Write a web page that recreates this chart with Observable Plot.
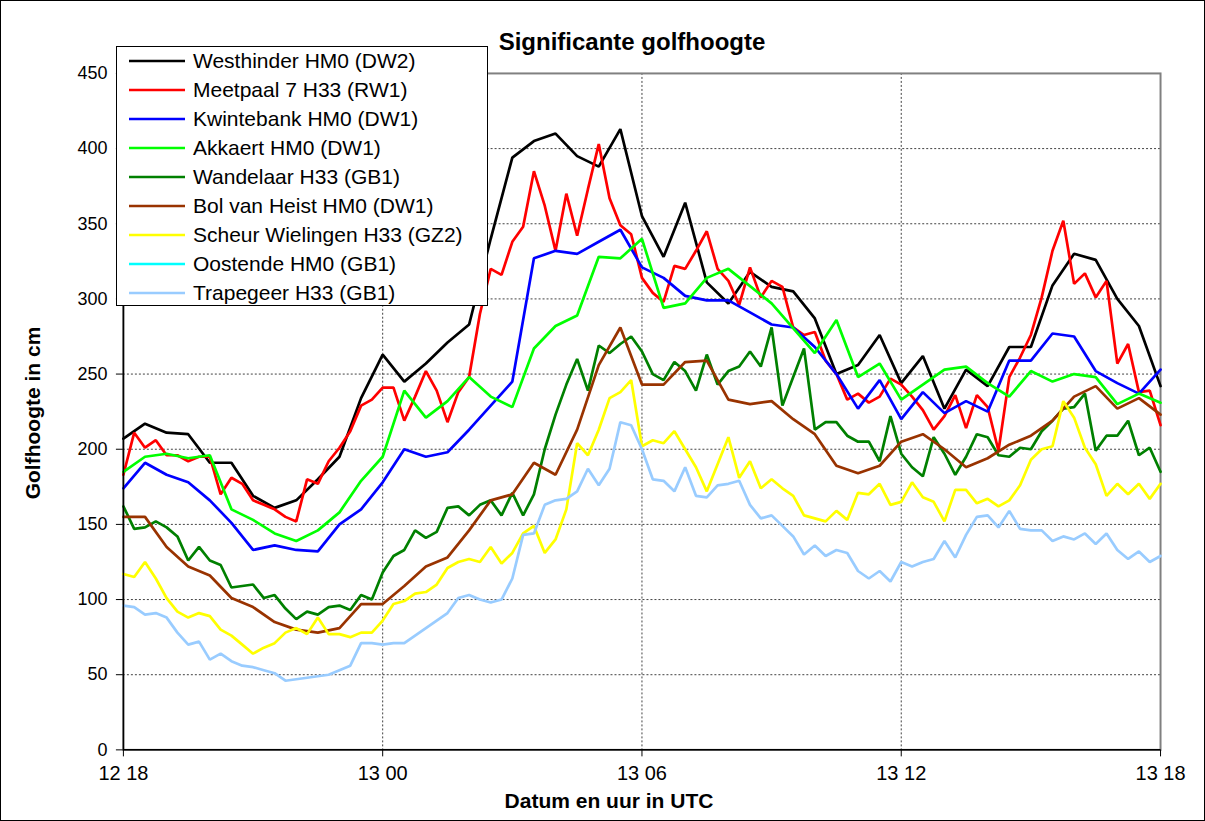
<!DOCTYPE html>
<html>
<head>
<meta charset="utf-8">
<script src="https://cdn.jsdelivr.net/npm/d3@7"></script>
<script src="https://cdn.jsdelivr.net/npm/@observablehq/plot@0.6"></script>
<style>
  html, body { margin: 0; padding: 0; background: #fff; }
  #wrap { position: relative; width: 1205px; height: 821px; box-sizing: border-box; border: 1px solid #000; overflow: hidden; font-family: Arial, "Liberation Sans", sans-serif; }
  #chart { position: absolute; left: -1px; top: -1px; }
  .title { position: absolute; left: 0; width: 1262px; top: 27px; text-align: center; font-weight: bold; font-size: 24px; line-height: 28px; }
  .xlab { position: absolute; left: 0; width: 1216px; top: 788px; text-align: center; font-weight: bold; font-size: 21px; line-height: 24px; }
  .ylab { position: absolute; left: 32px; top: 412px; transform: translate(-50%, -50%) rotate(-90deg); white-space: nowrap; font-weight: bold; font-size: 21px; line-height: 24px; }
  #legend { position: absolute; left: 115px; top: 45px; width: 372px; height: 260px; box-sizing: border-box; border: 1px solid #000; background: #fff; padding-top: 0px; }
  .row { display: flex; align-items: center; height: 28.9px; font-size: 21px; white-space: nowrap; }
  .row svg { margin-left: 12px; margin-right: 8px; flex: none; }
</style>
</head>
<body>
<div id="wrap">
  <div id="chart"></div>
  <div class="title">Significante golfhoogte</div>
  <div class="ylab">Golfhoogte in cm</div>
  <div class="xlab">Datum en uur in UTC</div>
  <div id="legend"></div>
</div>
<script>
// Series names and colours (legend order)
const seriesNames = [
  "Westhinder HM0 (DW2)",
  "Meetpaal 7 H33 (RW1)",
  "Kwintebank HM0 (DW1)",
  "Akkaert HM0 (DW1)",
  "Wandelaar H33 (GB1)",
  "Bol van Heist HM0 (DW1)",
  "Scheur Wielingen H33 (GZ2)",
  "Oostende HM0 (GB1)",
  "Trapegeer H33 (GB1)"
];
const seriesColors = ["#000000", "#ff0000", "#0000ff", "#00ff00", "#008000", "#993300", "#ffff00", "#00ffff", "#99ccff"];

// x tick labels (hours after 12 18)
const tickHours = [0, 6, 12, 18, 24];
const tickLabels = ["12 18", "13 00", "13 06", "13 12", "13 18"];

// Half-hourly series (values every 30 minutes from 12 18 to 13 18), cm
const westhinder = [207,217,211,210,191,191,169,161,166,180,195,234,263,245,257,271,283,340,394,405,410,395,388,413,355,328,364,311,297,318,308,305,287,250,256,276,244,262,227,253,242,268,268,309,330,326,300,282,242];
const kwintebank = [174,191,183,178,166,151,133,136,133,132,150,160,178,200,195,198,213,229,245,327,332,330,338,346,321,314,302,299,299,291,283,281,268,250,227,246,220,238,224,232,225,259,259,277,275,252,244,237,253];
const akkaert = [185,195,197,194,196,160,153,144,139,146,158,179,195,239,221,232,248,235,228,267,282,289,328,327,340,294,297,314,320,null,297,null,264,286,248,257,233,243,253,255,244,235,252,245,250,248,230,237,231];
const bolVanHeist = [155,155,135,122,116,101,95,85,80,78,81,97,97,109,122,128,146,166,170,191,183,213,256,281,243,243,258,259,233,230,232,220,210,189,184,189,205,210,200,188,194,203,209,219,235,242,227,234,223];

// Quarter-hourly series (values every 15 minutes), cm
const meetpaal7 = [183,211,201,206,196,196,192,195,195,170,181,177,166,163,160,155,152,180,177,192,201,212,229,233,241,241,219,235,252,239,218,238,248,290,320,316,338,348,385,362,332,370,342,373,403,367,349,343,314,304,298,322,320,332,345,320,312,296,321,301,312,308,281,276,278,259,250,233,237,231,235,247,243,235,226,213,222,236,214,236,228,199,248,261,276,301,332,352,310,317,301,312,257,270,238,239,216];
const wandelaar = [162,147,148,152,148,142,126,135,126,123,108,109,110,101,103,94,87,92,90,95,96,93,103,100,118,129,133,146,141,145,161,162,156,163,166,156,171,156,170,200,223,243,260,239,269,264,270,275,265,250,246,258,252,239,263,243,252,255,265,255,281,229,248,267,213,218,218,209,205,205,192,222,197,188,182,208,197,183,195,210,208,196,195,201,200,212,219,227,228,237,199,209,209,219,196,201,185];
const scheurWielingen = [117,115,125,114,101,92,88,91,89,80,76,70,64,68,71,78,81,77,88,77,77,75,78,78,86,97,99,104,105,110,121,125,127,125,135,124,131,144,149,131,140,160,204,196,213,234,238,246,202,206,204,212,200,188,172,190,208,181,192,174,180,174,169,156,154,152,159,153,171,170,177,163,165,178,168,165,152,173,173,164,167,162,166,176,193,200,202,232,221,201,190,169,177,170,177,167,177];
const oostende = [];
const trapegeer = [96,95,90,91,88,78,70,72,60,64,59,56,55,53,51,46,47,48,49,50,53,56,71,71,70,71,71,76,81,86,91,101,103,100,98,100,114,143,144,163,166,167,172,187,176,187,218,216,200,180,179,172,188,169,168,176,177,179,163,154,156,149,142,130,136,129,133,131,119,114,119,112,125,122,125,127,139,128,143,155,156,148,159,147,146,146,139,142,140,144,137,144,133,127,132,125,129];

const seriesValues = [westhinder, meetpaal7, kwintebank, akkaert, wandelaar, bolVanHeist, scheurWielingen, oostende, trapegeer];
const seriesStepHours = [0.5, 0.25, 0.5, 0.5, 0.25, 0.5, 0.25, 0.25, 0.25];

const rows = [];
seriesNames.forEach((name, s) => {
  seriesValues[s].forEach((v, i) => {
    if (v != null) rows.push({series: name, h: i * seriesStepHours[s], v});
  });
});

const lineMarks = seriesNames.map((name, s) =>
  Plot.line(rows.filter(d => d.series === name), {x: "h", y: "v", stroke: seriesColors[s], strokeWidth: 2.7, strokeLinejoin: "miter"})
);

const chart = Plot.plot({
  width: 1205,
  height: 821,
  marginLeft: 123,
  marginRight: 44,
  marginTop: 73,
  marginBottom: 71,
  style: {fontFamily: "Arial, 'Liberation Sans', sans-serif", fontSize: "18px", color: "#000", background: "transparent", overflow: "visible"},
  x: {domain: [0, 24], label: null},
  y: {domain: [0, 450], label: null},
  marks: [
    Plot.gridY(d3.range(50, 450, 50), {stroke: "#000", strokeOpacity: 0.75, strokeDasharray: "2,2", strokeWidth: 1}),
    Plot.gridX([6, 12, 18], {stroke: "#000", strokeOpacity: 0.75, strokeDasharray: "2,2", strokeWidth: 1}),
    Plot.frame({stroke: "#808080", strokeWidth: 2}),
    ...lineMarks,
    Plot.ruleX([0], {stroke: "#000", strokeWidth: 1.5}),
    Plot.ruleY([0], {stroke: "#000", strokeWidth: 1.5}),
    Plot.axisY({ticks: d3.range(0, 451, 50), tickSize: 7, tickPadding: 9, fontSize: 18, label: null}),
    Plot.axisX({ticks: tickHours, tickFormat: h => tickLabels[tickHours.indexOf(h)], tickSize: 7, tickPadding: 9, fontSize: 20, label: null})
  ]
});
document.getElementById("chart").appendChild(chart);

// Legend
const legend = document.getElementById("legend");
seriesNames.forEach((name, s) => {
  const row = document.createElement("div");
  row.className = "row";
  row.innerHTML = `<svg width="56" height="6"><line x1="0" y1="3" x2="56" y2="3" stroke="${seriesColors[s]}" stroke-width="2.7"/></svg><span>${name}</span>`;
  legend.appendChild(row);
});
</script>
</body>
</html>
